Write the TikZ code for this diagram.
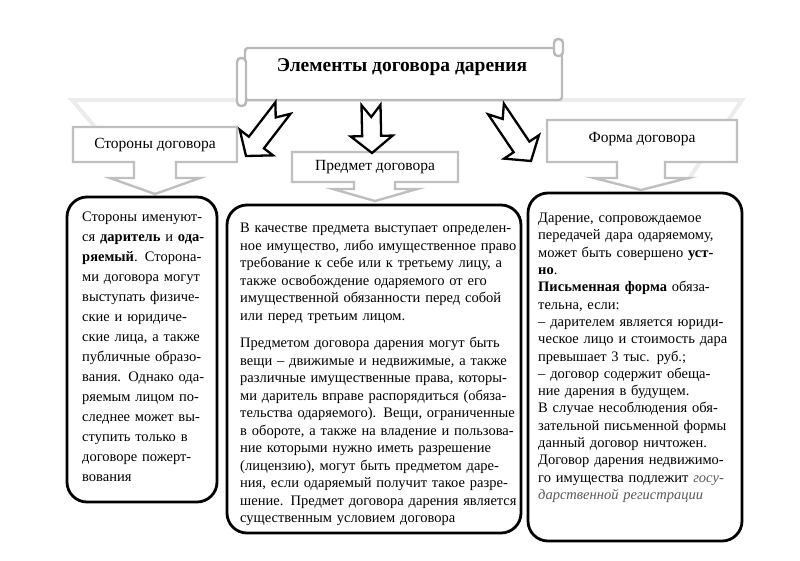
\documentclass[tikz,border=0pt]{standalone}
\usepackage{fontspec}
\setmainfont{Liberation Serif}
\usetikzlibrary{calc}
\newcommand\J[1]{\makebox[\linewidth][s]{#1}}
\tikzset{
  tbox/.style={draw=black, line width=2.8pt, rounded corners=20pt, fill=white, inner sep=0pt},
  hbox/.style={draw=gray!50, line width=2.4pt, fill=white, line join=miter},
  banner/.style={draw=gray!55, line width=2.4pt, fill=white, rounded corners=3pt},
  barr/.style={draw=black, line width=2.3pt, fill=white, line join=miter},
  bgline/.style={draw=gray!15, line width=4pt},
  htext/.style={inner sep=0pt, font=\fontsize{15.5}{17}\selectfont},
  txt/.style={inner sep=0pt, anchor=north west, align=left},
}
\newcommand\blockarr[2]{%
  \draw[barr] ($(#1)!9.5pt!90:(#2)$) -- ($(#1)!12pt!(#2)$) -- ($(#1)!9.5pt!-90:(#2)$)
   -- ($(#2)!17pt!(#1)!9.5pt!90:(#1)$) -- ($(#2)!17pt!(#1)!21pt!90:(#1)$) -- (#2)
   -- ($(#2)!17pt!(#1)!21pt!-90:(#1)$) -- ($(#2)!17pt!(#1)!9.5pt!-90:(#1)$) -- cycle;}
\begin{document}
\begin{tikzpicture}[x=1pt,y=-1pt]
\useasboundingbox[fill=white] (0,0) rectangle (800,560);
% faint background band
\draw[bgline] (95,127) -- (72,100) -- (742,100) -- (688,180);
% banner
\draw[banner] (245,48) rectangle (562,100);
\draw[banner, rounded corners=4pt] (237,58) rectangle (246,106);
\draw[banner, rounded corners=4pt] (554,39) rectangle (563,56);
\node[inner sep=0pt, font=\fontsize{19.5}{21}\selectfont\bfseries] (title) at (402,67) {Элементы договора дарения};
% header callouts
\draw[hbox] (73,127) -- (237,127) -- (237,162) -- (176,162) -- (176,178) -- (200,178) -- (155,194) -- (110,178) -- (134,178) -- (134,162) -- (73,162) -- cycle;
\draw[hbox] (292,152) -- (458,152) -- (458,182) -- (395,182) -- (395,189) -- (417,189) -- (375,201) -- (333,189) -- (354,189) -- (354,182) -- (292,182) -- cycle;
\draw[hbox] (547,120) -- (737,120) -- (737,162) -- (665,162) -- (665,178) -- (688,178) -- (641,190) -- (594,178) -- (617,178) -- (617,162) -- (547,162) -- cycle;
\node[htext] (h1) at (155,145) {Стороны договора};
\node[htext] (h2) at (375,167) {Предмет договора};
\node[htext] (h3) at (642,139) {Форма договора};
% block arrows
\coordinate (a1) at (283,108); \coordinate (b1) at (246,156);
\coordinate (a2) at (371,105); \coordinate (b2) at (372,153);
\coordinate (a3) at (496,109); \coordinate (b3) at (531,161);
\blockarr{a1}{b1}
\blockarr{a2}{b2}
\blockarr{a3}{b3}
% text boxes
\node[tbox, minimum width=150pt, minimum height=305pt] (lb) at (142,349.5) {};
\node[tbox, minimum width=294pt, minimum height=328pt] (mb) at (374,369) {};
\node[tbox, minimum width=214pt, minimum height=348pt] (rb) at (635,367) {};
\node[txt, text width=125pt, font=\fontsize{14.5}{20}\selectfont] (lt) at (82,212) {%
\J{Стороны именуют-}\\
\J{ся \textbf{даритель} и \textbf{ода-}}\\
\J{\textbf{ряемый}. Сторона-}\\
\J{ми договора могут}\\
\J{выступать физиче-}\\
\J{ские и юридиче-}\\
\J{ские лица, а также}\\
\J{публичные образо-}\\
\J{вания. Однако ода-}\\
\J{ряемым лицом по-}\\
\J{следнее может вы-}\\
\J{ступить только в}\\
\J{договоре пожерт-}\\
вования};
\node[txt, text width=278pt, font=\fontsize{14.5}{17.5}\selectfont] (mt) at (240,223) {%
\J{В качестве предмета выступает определен-}\\
\J{ное имущество, либо имущественное право}\\
\J{требование к себе или к третьему лицу, а}\\
\J{также освобождение одаряемого от его}\\
\J{имущественной обязанности перед собой}\\
или перед третьим лицом.\\[10pt]
\J{Предметом договора дарения могут быть}\\
\J{вещи – движимые и недвижимые, а также}\\
\J{различные имущественные права, которы-}\\
\J{ми даритель вправе распорядиться (обяза-}\\
\J{тельства одаряемого). Вещи, ограниченные}\\
\J{в обороте, а также на владение и пользова-}\\
\J{ние которыми нужно иметь разрешение}\\
\J{(лицензию), могут быть предметом даре-}\\
\J{ния, если одаряемый получит такое разре-}\\
\J{шение. Предмет договора дарения является}\\
существенным условием договора};
\node[txt, text width=200pt, font=\fontsize{14.5}{17.3}\selectfont] (rt) at (538,213) {%
\J{Дарение, сопровождаемое}\\
\J{передачей дара одаряемому,}\\
\J{может быть совершено \textbf{уст-}}\\
\textbf{но}.\\
\J{\textbf{Письменная форма} обяза-}\\
тельна, если:\\
\J{– дарителем является юриди-}\\
\J{ческое лицо и стоимость дара}\\
превышает 3 тыс. руб.;\\
\J{– договор содержит обеща-}\\
ние дарения в будущем.\\
\J{В случае несоблюдения обя-}\\
\J{зательной письменной формы}\\
данный договор ничтожен.\\
\J{Договор дарения недвижимо-}\\
\J{го имущества подлежит \textcolor{black!65}{\textit{госу-}}}\\
\textcolor{black!65}{\textit{дарственной регистрации}}};
\end{tikzpicture}
\end{document}
